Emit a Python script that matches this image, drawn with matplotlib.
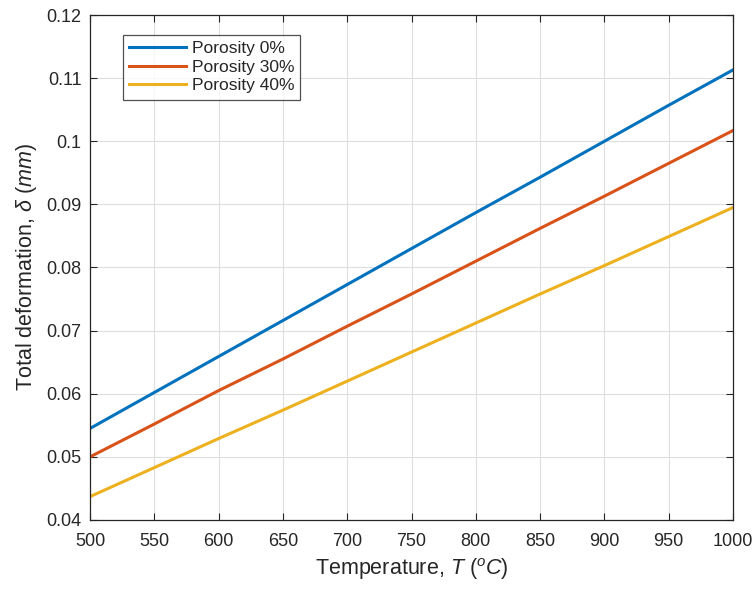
import matplotlib
matplotlib.use("Agg")
import matplotlib.pyplot as plt

temperature = [500, 550, 600, 650, 700, 750, 800, 850, 900, 950, 1000]
porosity_0 = [0.0545, 0.0602, 0.0659, 0.0716, 0.0773, 0.0830, 0.0887, 0.0943, 0.1000, 0.1057, 0.1113]
porosity_30 = [0.0500, 0.0552, 0.0605, 0.0655, 0.0707, 0.0758, 0.0810, 0.0862, 0.0913, 0.0965, 0.1017]
porosity_40 = [0.0437, 0.0483, 0.0529, 0.0574, 0.0620, 0.0666, 0.0712, 0.0758, 0.0803, 0.0849, 0.0895]
labels = ["Porosity 0%", "Porosity 30%", "Porosity 40%"]
x_ticks = [500, 550, 600, 650, 700, 750, 800, 850, 900, 950, 1000]
y_ticks = [0.04, 0.05, 0.06, 0.07, 0.08, 0.09, 0.10, 0.11, 0.12]
y_tick_labels = ["0.04", "0.05", "0.06", "0.07", "0.08", "0.09", "0.1", "0.11", "0.12"]

plt.rcParams['font.family'] = ['Liberation Sans', 'DejaVu Sans']
plt.rcParams['mathtext.fontset'] = 'custom'
plt.rcParams['mathtext.rm'] = 'Liberation Sans'
plt.rcParams['mathtext.it'] = 'Liberation Sans:italic'

txt = '#262626'
fig = plt.figure(figsize=(7.56, 5.94), dpi=100)
ax = fig.add_axes([90/756, 1-520/594, (733-90)/756, (520-15)/594])

colors = ['#0072BD', '#D95319', '#EDB120']
for vals, lab, c in zip([porosity_0, porosity_30, porosity_40], labels, colors):
    ax.plot(temperature, vals, color=c, lw=2.2, label=lab)

ax.set_xlim(500, 1000)
ax.set_ylim(0.04, 0.12)
ax.set_xticks(x_ticks)
ax.set_yticks(y_ticks)
ax.set_yticklabels(y_tick_labels)
ax.grid(True, color='#dedede', lw=0.8)
ax.set_axisbelow(True)
ax.tick_params(direction='in', length=5, width=0.8, colors=txt, labelsize=13, top=True, right=True,
               labeltop=False, labelright=False)
ax.tick_params(axis='x', pad=9.5)
ax.tick_params(axis='y', pad=6)
for s in ax.spines.values():
    s.set_color(txt)
    s.set_linewidth(0.9)

ax.set_xlabel(r'Temperature, $T\ (^{o}C)$', fontsize=15.5, color=txt, labelpad=4)
ax.set_ylabel(r'Total deformation, $\delta$ $\mathit{(mm)}$', fontsize=15.5, color=txt, labelpad=5)

leg = ax.legend(loc='upper left', bbox_to_anchor=(33/643, 1-20/505), fontsize=12.5, frameon=True,
                fancybox=False, edgecolor=txt, handlelength=3.3, handletextpad=0.3,
                labelspacing=0.2, borderpad=0.35, borderaxespad=0)
leg.get_frame().set_linewidth(0.9)
for t in leg.get_texts():
    t.set_color(txt)

fig.savefig('out.png', dpi=100)
